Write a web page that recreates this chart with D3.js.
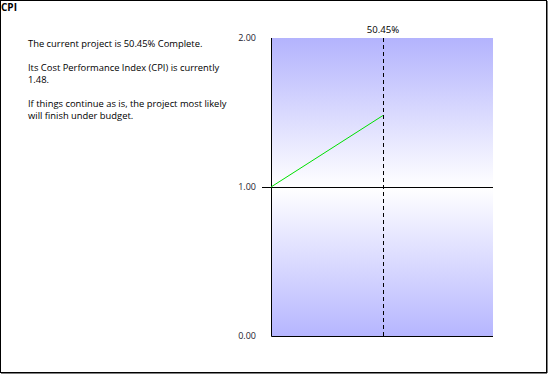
<!DOCTYPE html>
<html>
<head>
<meta charset="utf-8">
<script src="https://cdn.jsdelivr.net/npm/d3@7"></script>
<style>
  body { margin: 0; background: #fff; }
  svg { display: block; font-family: "Open Sans", "Noto Sans", sans-serif; }
</style>
</head>
<body>
<div id="chart"></div>
<script>
// data
const pctComplete = [0, 50.45];
const cpiValues = [1.0, 1.48];
const yTicks = [0, 1, 2];
const titleText = "CPI";
const notes = [
    "The current project is 50.45% Complete.",
    "",
    "Its Cost Performance Index (CPI) is currently",
    "1.48.",
    "",
    "If things continue as is, the project most likely",
    "will finish under budget."
];

const W = 548, H = 374;
const plot = {left: 271, right: 493, top: 38, bottom: 336};

const svg = d3.select('#chart')
    .append('svg')
    .attr('width', W)
    .attr('height', H);

// gradient background
const grad = svg.append('defs')
    .append('linearGradient')
    .attr('id', 'bg')
    .attr('x1', 0).attr('y1', 0)
    .attr('x2', 0).attr('y2', 1);
grad.append('stop').attr('offset', '0%').attr('stop-color', '#b3b3fd');
grad.append('stop').attr('offset', '50%').attr('stop-color', '#ffffff');
grad.append('stop').attr('offset', '100%').attr('stop-color', '#b6b6ff');

const x = d3.scaleLinear().domain([0, 100]).range([plot.left, plot.right]);
const y = d3.scaleLinear().domain([0, 2]).range([plot.bottom, plot.top]);

// outer frame
svg.append('rect')
    .attr('x', 0.5).attr('y', 0.5)
    .attr('width', W - 2).attr('height', H - 2)
    .attr('fill', 'none')
    .attr('stroke', '#000');
svg.append('path')
    .attr('d', `M${W - 1},1 V${H - 1} H1`)
    .attr('fill', 'none')
    .attr('stroke', '#000')
    .attr('stroke-width', 1);

// title
svg.append('text')
    .attr('x', 1)
    .attr('y', 11)
    .attr('font-size', 10)
    .attr('font-weight', 'bold')
    .text(titleText);

// notes
svg.append('g')
    .selectAll('text')
    .data(notes)
    .join('text')
    .attr('x', 28)
    .attr('y', (d, i) => 47 + i * 12)
    .attr('font-size', 9.4)
    .attr('fill', '#000')
    .text(d => d);

// plot background
svg.append('rect')
    .attr('x', x(0))
    .attr('y', y(2))
    .attr('width', x(100) - x(0))
    .attr('height', y(0) - y(2))
    .attr('fill', 'url(#bg)');

// y tick labels
svg.append('g')
    .selectAll('text')
    .data(yTicks)
    .join('text')
    .attr('x', 256)
    .attr('y', d => y(d))
    .attr('dy', '0.35em')
    .attr('text-anchor', 'end')
    .attr('font-size', 9)
    .attr('fill', '#1a1a2e')
    .text(d => d.toFixed(2));

// baseline at 1.00
svg.append('line')
    .attr('x1', plot.left - 9)
    .attr('x2', plot.right)
    .attr('y1', Math.round(y(1)) + 0.5)
    .attr('y2', Math.round(y(1)) + 0.5)
    .attr('stroke', '#000');

// axes lines
svg.append('path')
    .attr('d', `M${plot.left + 0.5},${plot.top} V${plot.bottom + 0.5} H${plot.right}`)
    .attr('fill', 'none')
    .attr('stroke', '#000');

// current progress marker
const cur = pctComplete[pctComplete.length - 1];
svg.append('line')
    .attr('x1', Math.round(x(cur)) + 0.5)
    .attr('x2', Math.round(x(cur)) + 0.5)
    .attr('y1', plot.top)
    .attr('y2', plot.bottom)
    .attr('stroke', '#000')
    .attr('stroke-dasharray', '4,3');

svg.append('text')
    .attr('x', x(cur))
    .attr('y', 33)
    .attr('text-anchor', 'middle')
    .attr('font-size', 9.6)
    .attr('fill', '#000')
    .text(cur.toFixed(2) + '%');

// CPI line
const line = d3.line()
    .x(d => x(d[0]))
    .y(d => y(d[1]));
svg.append('path')
    .datum(d3.zip(pctComplete, cpiValues))
    .attr('d', line)
    .attr('fill', 'none')
    .attr('stroke', '#00e000')
    .attr('stroke-width', 1);
</script>
</body>
</html>
